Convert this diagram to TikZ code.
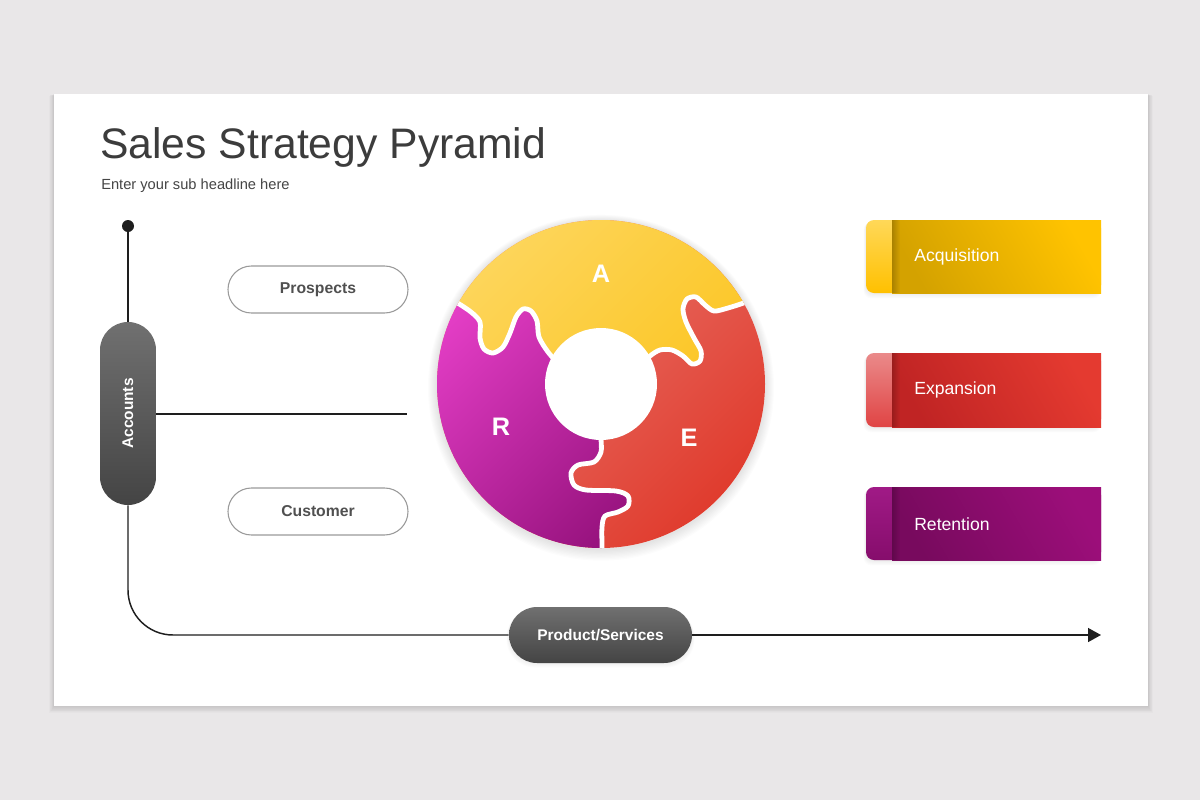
\documentclass[tikz,border=0pt]{standalone}
\usepackage{fontspec}
\setmainfont{Liberation Sans}
\usetikzlibrary{fadings,arrows.meta}
\definecolor{bg}{HTML}{E9E7E8}
\definecolor{titlegray}{HTML}{3C3C3C}
\definecolor{subgray}{HTML}{454545}
\definecolor{linecol}{HTML}{1E1E1E}
\definecolor{pilltop}{HTML}{707070}
\definecolor{pillbot}{HTML}{444444}
\definecolor{outline}{HTML}{9A9A9A}
\definecolor{outtext}{HTML}{505050}
\definecolor{Alight}{HTML}{FDD55A}
\definecolor{Adark}{HTML}{FBC010}
\definecolor{Elight}{HTML}{E97A72}
\definecolor{Edark}{HTML}{E03C2E}
\definecolor{Rlight}{HTML}{E63FC8}
\definecolor{Rdark}{HTML}{880A70}
\definecolor{acqS1}{HTML}{FFD858}
\definecolor{acqS2}{HTML}{FFC000}
\definecolor{acqM1}{HTML}{FFC300}
\definecolor{acqM2}{HTML}{D4A200}
\definecolor{expS1}{HTML}{EA8A8A}
\definecolor{expS2}{HTML}{E04444}
\definecolor{expM1}{HTML}{E43A30}
\definecolor{expM2}{HTML}{C02424}
\definecolor{retS1}{HTML}{A01A86}
\definecolor{retS2}{HTML}{860D6C}
\definecolor{retM1}{HTML}{9C0E7A}
\definecolor{retM2}{HTML}{780A5E}
\tikzset{
  axisline/.style={draw=linecol, line width=1.1pt},
  pilldark/.style={top color=pilltop, bottom color=pillbot, text=white, inner sep=0pt,
    font=\bfseries\fontsize{11.6}{13}\selectfont},
  outpill/.style={draw=outline, line width=0.8pt, fill=white, text=outtext, inner sep=0pt,
    minimum width=135pt, minimum height=35.25pt, rounded corners=17.6pt,
    font=\bfseries\fontsize{11.8}{13}\selectfont},
  ringletter/.style={text=white, inner sep=0pt, font=\bfseries\fontsize{19}{21}\selectfont},
  tabtext/.style={text=white, inner sep=0pt, anchor=west, font=\fontsize{13.2}{15}\selectfont},
  sepline/.style={white, line width=3.6pt, line cap=round, line join=round},
  softshadow/.style={black, opacity=0.012}
}
\newcommand\salestab[9]{%
  % #1 top y, #2 bottom y, #3 strip top, #4 strip bottom, #5 main bright, #6 main dark, #7 label, #8 node name, #9 centre y
  \foreach \i in {1,...,6}{\fill[softshadow, rounded corners=6pt] (866-\i*0.4,#1+\i*0.4) rectangle (1101,#2+\i*0.9);}
  \shade[top color=#3, bottom color=#4, rounded corners=6pt] (866,#1) rectangle (1101,#2);
  \shade[top color=#5, bottom color=#6, shading angle=-60] (892,#1) rectangle (1101,#2);
  \fill[black, opacity=0.2, path fading=east] (892,#1) rectangle (900,#2);
  \node[tabtext] (#8) at (914,#9) {#7};
}
\begin{document}
\begin{tikzpicture}[x=0.75pt,y=-0.75pt]
\useasboundingbox (0,0) rectangle (1200,800);
\fill[bg] (0,0) rectangle (1200,800);
\foreach \i in {1,...,8}{\fill[black, opacity=0.014] (54-\i*0.6,94+\i*0.2) rectangle (1148+\i*0.6,706+\i*0.9);}
\fill[white] (54,94) rectangle (1148,706);

% titles
\node[anchor=base west, inner sep=0pt, text=titlegray, font=\fontsize{32}{36}\selectfont] (title) at (100,158) {Sales Strategy Pyramid};
\node[anchor=base west, inner sep=0pt, text=subgray, font=\fontsize{11}{13}\selectfont] (sub) at (101,189) {Enter your sub headline here};

% left axis
\node[circle, fill=linecol, inner sep=0pt, minimum size=9pt] (dot) at (128,226) {};
\foreach \i in {1,...,5}{\fill[softshadow, rounded corners=21pt] (509-\i*0.5,607+\i*0.4) rectangle (692+\i*0.5,663+\i*0.9);}
\node[pilldark, minimum width=42pt, minimum height=137.25pt, rounded corners=21pt] (acc) at (128,413.5) {\rotatebox{90}{Accounts}};
\node[pilldark, minimum width=137.25pt, minimum height=42pt, rounded corners=21pt] (prod) at (600.5,635) {Product/Services};
\coordinate (hend) at (407,413.5);
\coordinate (arrowend) at (1101,635);
\draw[axisline] (dot) -- (acc.north);
\draw[axisline, rounded corners=33.75pt] (acc.south) |- (prod.west);
\draw[axisline, -{Triangle[length=9.75pt, width=10.5pt]}] (prod.east) -- (arrowend);
\draw[draw=linecol, line width=1.5pt] (acc.east) -- (hend);

\node[outpill] (pros) at (318,289.5) {Prospects};
\node[outpill] (cust) at (318,511.5) {Customer};

% ring
\coordinate (rc) at (601,384);
\foreach \i in {1,...,9}{\fill[softshadow] (601,385+\i*0.3) circle[radius=164+\i];}
\fill[white] (rc) circle[radius=164];
\shade[top color=Elight, bottom color=Edark, shading angle=45] (rc) circle[radius=164];
\begin{scope}
\clip (rc) -- plot[smooth] coordinates {(562,368) (548,352) (539,337) (537,321) (531,311) (523,309) (516,317) (510,333) (503,347) (493,353) (484,349) (480,338) (480,322) (471,312) (456,302) (440,293)}
  -- (350,241) -- (601,100) -- (850,241)
  -- plot[smooth] coordinates {(760,294) (746,302) (728,308) (714,311) (705,305) (696,297) (687,299) (683,309) (686,322) (694,338) (701,351) (700,361) (692,364) (683,356) (672,350) (660,350) (650,356) (640,366)} -- cycle;
\shade[top color=Alight, bottom color=Adark, shading angle=45] (rc) circle[radius=164];
\end{scope}
\begin{scope}
\clip (rc) -- plot[smooth] coordinates {(562,368) (548,352) (539,337) (537,321) (531,311) (523,309) (516,317) (510,333) (503,347) (493,353) (484,349) (480,338) (480,322) (471,312) (456,302) (440,293)}
  -- (350,241) -- (330,560) -- (602,700)
  -- plot[smooth] coordinates {(602,560) (602,545) (602,527) (605,516) (618,512) (628,506) (628,496) (616,491) (586,490) (574,485) (571,473) (578,465) (594,462) (601,452) (601,438) (601,420)} -- cycle;
\shade[top color=Rlight, bottom color=Rdark, shading angle=45] (rc) circle[radius=164];
\end{scope}
\fill[white] (rc) circle[radius=56];
\begin{scope}
\clip (rc) circle[radius=164];
\draw[sepline] plot[smooth] coordinates {(562,368) (548,352) (539,337) (537,321) (531,311) (523,309) (516,317) (510,333) (503,347) (493,353) (484,349) (480,338) (480,322) (471,312) (456,302) (440,293)};
\draw[sepline] plot[smooth] coordinates {(760,294) (746,302) (728,308) (714,311) (705,305) (696,297) (687,299) (683,309) (686,322) (694,338) (701,351) (700,361) (692,364) (683,356) (672,350) (660,350) (650,356) (640,366)};
\draw[sepline] plot[smooth] coordinates {(602,560) (602,545) (602,527) (605,516) (618,512) (628,506) (628,496) (616,491) (586,490) (574,485) (571,473) (578,465) (594,462) (601,452) (601,438) (601,420)};
\end{scope}
\node[ringletter] (la) at (601,274) {A};
\node[ringletter] (lr) at (501,427) {R};
\node[ringletter] (le) at (689,438) {E};

% tabs
\salestab{220}{293}{acqS1}{acqS2}{acqM1}{acqM2}{Acquisition}{tacq}{257}
\salestab{353}{427}{expS1}{expS2}{expM1}{expM2}{Expansion}{texp}{390}
\salestab{487}{560}{retS1}{retS2}{retM1}{retM2}{Retention}{tret}{524}
\end{tikzpicture}
\end{document}
